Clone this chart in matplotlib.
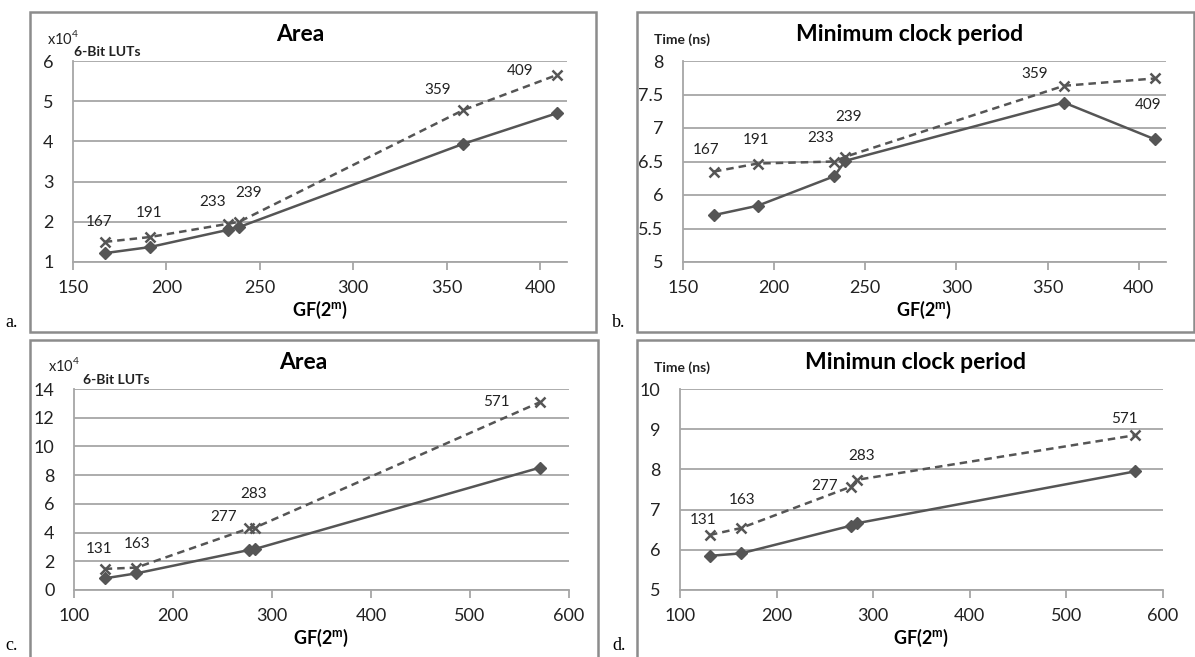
import matplotlib
matplotlib.use('Agg')
import matplotlib.pyplot as plt
from matplotlib.patches import Rectangle

plt.rcParams['font.family'] = ['Lato', 'DejaVu Sans']

# GF(2^m) field sizes
gf_a = [167, 191, 233, 239, 359, 409]
gf_c = [131, 163, 277, 283, 571]

# a. Area (x10^4 6-bit LUTs)
area_a_solid = [1.22, 1.37, 1.80, 1.87, 3.94, 4.70]
area_a_dash = [1.50, 1.62, 1.95, 2.00, 4.78, 5.65]
# b. Minimum clock period (ns)
clk_b_solid = [5.70, 5.84, 6.28, 6.51, 7.38, 6.83]
clk_b_dash = [6.35, 6.47, 6.50, 6.57, 7.63, 7.74]
# c. Area (x10^4 6-bit LUTs)
area_c_solid = [0.81, 1.16, 2.79, 2.86, 8.53]
area_c_dash = [1.47, 1.56, 4.30, 4.35, 13.09]
# d. Minimum clock period (ns)
clk_d_solid = [5.85, 5.91, 6.60, 6.66, 7.95]
clk_d_dash = [6.37, 6.54, 7.57, 7.74, 8.85]

W, H = 1195, 657
fig = plt.figure(figsize=(W / 100, H / 100), dpi=100)


def box(l, t, r, b):
    return [l / W, 1 - b / H, (r - l) / W, (b - t) / H]


line_col = '#555555'
grid_col = '#a6a6a6'


def panel(rect, xs, solid, dash, xlim, ylim, yticks, ylabels, xticks,
          title, title_x, unit_lines, offsets):
    ax = fig.add_axes(box(*rect))
    ax.plot(xs, solid, color=line_col, lw=1.8, marker='D', ms=6.5,
            zorder=3)
    ax.plot(xs, dash, color=line_col, lw=1.8, ls=(0, (3, 2)), marker='x',
            ms=6.5, mew=1.8, zorder=3)
    for x, y, off in zip(xs, dash, offsets):
        ax.annotate(str(x), (x, y), xytext=off, textcoords='offset pixels',
                    ha='center', va='center', fontsize=11, color='#222222')
    ax.set_xlim(*xlim)
    ax.set_ylim(*ylim)
    ax.set_yticks(yticks)
    ax.set_yticklabels(ylabels)
    ax.set_xticks(xticks)
    ax.grid(axis='y', color=grid_col, lw=1.3)
    ax.set_axisbelow(True)
    for s in ['right', 'top']:
        ax.spines[s].set_visible(False)
    for s in ['left', 'bottom']:
        ax.spines[s].set_color(grid_col)
        ax.spines[s].set_linewidth(1.3)
    ax.tick_params(axis='y', length=0, pad=14, labelsize=13,
                   labelcolor='#222222')
    ax.tick_params(axis='x', length=6, width=1.3, color=grid_col, pad=7,
                   labelsize=13, labelcolor='#222222')
    ax.text(title_x, 1.13, title, transform=ax.transAxes, ha='center',
            va='center', fontsize=16.5, fontweight='bold')
    ax.text(0.5, -0.24, 'GF(2$^\\mathregular{m}$)', transform=ax.transAxes,
            ha='center', va='center', fontsize=13, fontweight='bold')
    for txt, x, y, fs, fw in unit_lines:
        fig.text(x / W, 1 - y / H, txt, ha='left', va='center', fontsize=fs,
                 fontweight=fw, color='#222222')
    return ax


panel((73, 61, 567, 262), gf_a, area_a_solid, area_a_dash, (150, 414.5),
      (1, 6), [1, 2, 3, 4, 5, 6], ['1', '2', '3', '4', '5', '6'],
      [150, 200, 250, 300, 350, 400], 'Area', 0.46,
      [('x10$^\\mathregular{4}$', 47, 38, 10.5, 'normal'),
       ('6-Bit LUTs', 74, 52, 10, 'bold')],
      [(-6, 20), (0, 24), (-15, 22), (9, 29), (-26, 20), (-37, 4)])

panel((683, 61, 1166, 262), gf_a, clk_b_solid, clk_b_dash, (150, 415),
      (5, 8), [5, 5.5, 6, 6.5, 7, 7.5, 8],
      ['5', '5.5', '6', '6.5', '7', '7.5', '8'],
      [150, 200, 250, 300, 350, 400], 'Minimum clock period', 0.47,
      [('Time (ns)', 654, 40, 10, 'bold')],
      [(-8, 22), (-2, 24), (-14, 23), (3, 40), (-29, 12), (-7, -27)])

panel((74, 389, 569, 590), gf_c, area_c_solid, area_c_dash, (100, 600),
      (0, 14), [0, 2, 4, 6, 8, 10, 12, 14],
      ['0', '2', '4', '6', '8', '10', '12', '14'],
      [100, 200, 300, 400, 500, 600], 'Area', 0.463,
      [('x10$^\\mathregular{4}$', 48, 365, 10.5, 'normal'),
       ('6-Bit LUTs', 83, 380, 10, 'bold')],
      [(-6, 20), (1, 24), (-26, 11), (-2, 34), (-44, 0)])

panel((680, 389, 1163, 590), gf_c, clk_d_solid, clk_d_dash, (100, 600),
      (5, 10), [5, 6, 7, 8, 9, 10], ['5', '6', '7', '8', '9', '10'],
      [100, 200, 300, 400, 500, 600], 'Minimun clock period', 0.487,
      [('Time (ns)', 654, 368, 10, 'bold')],
      [(-7, 15), (1, 28), (-26, 1), (5, 24), (-11, 16)])

# panel frames
for l, t, r, b in [(30, 12, 596, 332), (637, 12, 1194, 332),
                   (30, 340, 598, 662), (637, 340, 1197, 662)]:
    fig.add_artist(Rectangle((l / W, 1 - b / H), (r - l) / W, (b - t) / H,
                             transform=fig.transFigure, fill=False,
                             ec='#8c8c8c', lw=1.8))

for txt, x, y in [('a.', 5, 323), ('b.', 612, 323), ('c.', 5, 646),
                  ('d.', 612, 646)]:
    fig.text(x / W, 1 - y / H, txt, ha='left', va='center', fontsize=13,
             family='Liberation Serif')

fig.savefig('out.png', dpi=100)
